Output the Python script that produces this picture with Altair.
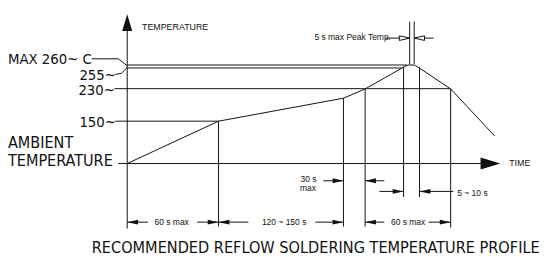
import altair as alt
import pandas as pd

# ---- temperature profile polyline (diagram units: x = time axis, y = temperature axis, downward) ----
profile_x = [129, 221.7, 348.5, 370.5, 411.5, 414, 420.5, 424, 457.3, 502]
profile_y = [164, 121, 97.7, 88.3, 65, 64, 64, 66, 88.3, 136]

# ---- straight line segments of the drawing ----
seg_x1 = [129, 120, 128, 128, 116, 117, 93, 120, 117, 123,
          221.7, 348.5, 370.5, 409.5, 425.7, 457.3, 415.7, 420.3,
          129, 200, 221.7, 320, 370.5, 435, 328, 370.5, 385, 425.7, 391, 420.3]
seg_y1 = [25, 164, 64, 67, 88, 121, 57.7, 57.7, 73.5, 72.5,
          121, 97.7, 88.3, 66, 66, 88.3, 20, 20,
          223.5, 223.5, 223.5, 223.5, 223.5, 223.5, 181.5, 181.5, 192.3, 192.3, 36.7, 36.7]
seg_x2 = [129, 492, 413, 408, 457.3, 221.7, 120, 128, 123, 128.5,
          221.7, 348.5, 370.5, 409.5, 425.7, 457.3, 415.7, 420.3,
          150, 221.7, 252, 348.5, 390, 457.3, 348.5, 390, 409.5, 460, 415.7, 440]
seg_y2 = [230, 164, 64, 67, 88, 121, 57.7, 64, 72.5, 67,
          228, 228, 228, 198, 198, 229, 63, 63,
          223.5, 223.5, 223.5, 223.5, 223.5, 223.5, 181.5, 181.5, 192.3, 192.3, 36.7, 36.7]

# ---- arrow heads ----
arrow_right_x = [221.7, 348.5, 457.3, 348.5, 409.5]
arrow_right_y = [223.5, 223.5, 223.5, 181.5, 192.3]
arrow_left_x = [129, 221.7, 370.5, 370.5, 425.7]
arrow_left_y = [223.5, 223.5, 223.5, 181.5, 192.3]
hollow_right_x, hollow_right_y = [415.7], [36.7]
hollow_left_x, hollow_left_y = [420.3], [36.7]

# ---- text labels ----
max_label, max_x, max_y = ["MAX 260~ C"], [8], [63.3]
level_labels = ["255~", "230~", "150~"]
level_x = [117.5, 116.5, 117.5]          # right edge of the level labels
level_y = [79, 94.5, 126.7]
amb_labels = ["AMBIENT", "TEMPERATURE"]
amb_x = [8, 8]
amb_y = [148.6, 166.7]

axis_labels = ["TEMPERATURE", "TIME"]
axis_lx = [144, 516.7]
axis_ly = [28.3, 166.7]

dim_labels = ["60 s max", "120 ~ 150 s", "60 s max", "30 s", "max", "5 ~ 10 s", "5 s max Peak Temp."]
dim_x = [156.7, 265.7, 396.7, 305, 304.3, 464, 319]
dim_y = [226.7, 226.7, 226.7, 182.8, 191.6, 196.7, 38.5]

title_text = "RECOMMENDED REFLOW SOLDERING TEMPERATURE PROFILE"
title_x, title_y = [93], [255]

INK = "#111111"
NARROW = "DejaVu Sans Condensed, Liberation Sans, sans-serif"
REG = "Liberation Sans, Arial, sans-serif"

xs = alt.Scale(domain=[8, 548])
ys = alt.Scale(domain=[8, 257], reverse=True)
X = lambda f: alt.X(f, type="quantitative", scale=xs, axis=None)
Y = lambda f: alt.Y(f, type="quantitative", scale=ys, axis=None)

seg_df = pd.DataFrame({"x": seg_x1, "y": seg_y1, "x2": seg_x2, "y2": seg_y2})
segments = alt.Chart(seg_df).mark_rule(color=INK, strokeWidth=1).encode(
    x=X("x"), y=Y("y"), x2="x2", y2="y2")

prof_df = pd.DataFrame({"x": profile_x, "y": profile_y, "i": range(len(profile_x))})
profile = alt.Chart(prof_df).mark_line(color=INK, strokeWidth=1).encode(
    x=X("x"), y=Y("y"), order="i:Q")

def heads(xv, yv, shape, size, filled=True):
    df = pd.DataFrame({"x": xv, "y": yv})
    if filled:
        m = alt.Chart(df).mark_point(shape=shape, size=size, filled=True, fill=INK, strokeWidth=0, opacity=1)
    else:
        m = alt.Chart(df).mark_point(shape=shape, size=size, filled=False, fill="white", fillOpacity=1,
                                     stroke=INK, strokeWidth=1, opacity=1)
    return m.encode(x=X("x"), y=Y("y"))

RIGHT = "M0,0L-2,-0.45L-2,0.45Z"
LEFT = "M0,0L2,-0.45L2,0.45Z"
layers = [segments, profile,
          heads(arrow_right_x, arrow_right_y, RIGHT, 121),
          heads(arrow_left_x, arrow_left_y, LEFT, 121),
          heads(hollow_right_x, hollow_right_y, RIGHT, 110, filled=False),
          heads(hollow_left_x, hollow_left_y, LEFT, 110, filled=False),
          heads([129], [12.5], "M0,0L-0.6,2L0.6,2Z", 289),
          heads([507.7], [164], "M0,0L-2,-0.6L-2,0.6Z", 400)]

def texts(labels, xv, yv, font, size, align="left"):
    df = pd.DataFrame({"x": xv, "y": yv, "t": labels})
    return alt.Chart(df).mark_text(font=font, fontSize=size, align=align, baseline="alphabetic",
                                   color=INK).encode(x=X("x"), y=Y("y"), text="t:N")

layers += [texts(max_label, max_x, max_y, NARROW, 15),
           texts(level_labels, level_x, level_y, NARROW, 15, align="right"),
           texts(amb_labels, amb_x, amb_y, NARROW, 16.3),
           texts(axis_labels, axis_lx, axis_ly, REG, 9),
           texts(dim_labels, dim_x, dim_y, REG, 8.6),
           texts([title_text], title_x, title_y, NARROW, 16.4)]

chart = alt.layer(*layers).properties(
    width=540, height=249, padding=0, autosize=alt.AutoSizeParams(type="none"),
    background="white"
).configure_view(stroke=None)

chart.save("out.html", embed_options={"renderer": "svg", "actions": False})
